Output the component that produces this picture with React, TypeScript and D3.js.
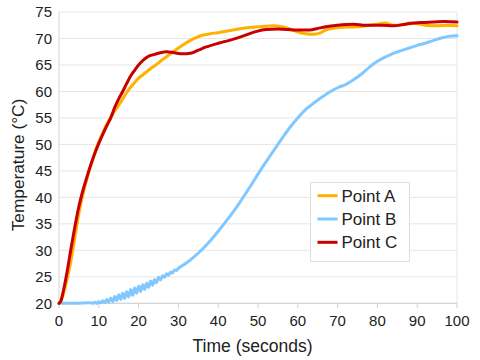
import React from "react";
import * as d3 from "d3";

const xTicks = [0, 10, 20, 30, 40, 50, 60, 70, 80, 90, 100];
const yTicks = [20, 25, 30, 35, 40, 45, 50, 55, 60, 65, 70, 75];

const seriesNames = ["Point A", "Point B", "Point C"];
const seriesColors = ["#ffb000", "#80c8ff", "#c80000"];

// Point A
const timeA = [0, 0.5, 1, 2, 3, 4, 5, 6, 7, 8, 9, 10, 11, 12, 13, 14, 15, 16, 17, 18, 19, 20, 21, 22, 23, 24, 25, 26, 28, 30, 32, 34, 36, 38, 40, 43, 46, 50, 54, 56, 58, 60, 62, 64, 65.5, 67, 68.5, 71, 75, 77, 80, 82, 84, 86.5, 88, 90, 92, 95, 97.5, 100];
const tempA = [20, 20.4, 21.5, 24.5, 28, 32.5, 37, 40.5, 43.5, 46, 48.5, 50.5, 52.2, 53.8, 55.1, 56.3, 57.4, 58.6, 59.8, 60.8, 61.7, 62.5, 63.1, 63.7, 64.3, 64.8, 65.4, 66, 67.1, 68.2, 69.2, 70, 70.6, 70.9, 71.1, 71.5, 71.9, 72.2, 72.4, 72.2, 71.8, 71.2, 70.9, 70.8, 71, 71.6, 71.9, 72.1, 72.2, 72.4, 72.7, 72.9, 72.5, 72.6, 72.9, 72.8, 72.5, 72.4, 72.5, 72.4];

// Point B
const timeB = [0, 4, 8, 8.5, 9, 9.5, 10, 10.5, 11, 11.5, 12, 12.5, 13, 13.5, 14, 14.5, 15, 15.5, 16, 16.5, 17, 17.5, 18, 18.5, 19, 19.5, 20, 20.5, 21, 21.5, 22, 22.5, 23, 23.5, 24, 24.5, 25, 25.5, 26, 26.5, 27, 27.5, 28, 28.5, 29, 29.5, 30, 32, 34, 36, 38, 40, 42, 44, 46, 48, 50, 52, 54, 56, 58, 60, 62, 64, 66, 68, 70, 72, 74, 76, 78, 80, 82, 84, 86, 88, 90, 92, 94, 96, 98, 100];
const tempB = [20, 20, 20.1, 20.0, 20.2, 20.0, 20.3, 20.1, 20.5, 20.1, 20.7, 20.2, 21.0, 20.3, 21.3, 20.5, 21.6, 20.7, 21.9, 20.9, 22.2, 21.2, 22.6, 21.5, 22.9, 21.9, 23.2, 22.2, 23.5, 22.6, 23.8, 23.0, 24.2, 23.4, 24.5, 23.9, 24.9, 24.4, 25.2, 24.9, 25.6, 25.3, 25.9, 25.7, 26.3, 26.2, 26.6, 27.6, 28.8, 30.2, 31.8, 33.6, 35.5, 37.5, 39.7, 42, 44.4, 46.7, 48.9, 51.1, 53.2, 55, 56.6, 57.8, 58.9, 59.9, 60.7, 61.3, 62.2, 63.3, 64.6, 65.7, 66.5, 67.2, 67.7, 68.2, 68.7, 69.1, 69.6, 70.1, 70.4, 70.5];

// Point C
const timeC = [0, 0.5, 1, 2, 3, 4, 5, 6, 7, 8, 9, 10, 11, 12, 13, 14, 15, 16, 17, 18, 19, 20, 21, 22, 23, 24, 25, 27, 29, 31, 33, 35, 37, 40, 43, 46, 49, 52, 55, 60, 63, 65, 67, 70, 74, 77, 81, 84, 87, 91, 94, 97, 100];
const tempC = [20, 20.5, 22, 25.8, 30.3, 34.5, 38.3, 41.3, 43.8, 46.2, 48.3, 50.2, 51.9, 53.5, 55, 57, 58.6, 60, 61.5, 62.9, 64, 65, 65.8, 66.4, 66.8, 67, 67.2, 67.5, 67.3, 67.1, 67.2, 67.8, 68.4, 69.1, 69.7, 70.4, 71.2, 71.7, 71.8, 71.6, 71.6, 71.9, 72.2, 72.5, 72.7, 72.5, 72.5, 72.4, 72.7, 73, 73.1, 73.2, 73.1];

const seriesTimes = [timeA, timeB, timeC];
const seriesTemps = [tempA, tempB, tempC];

export default function App() {
  const W = 480, H = 360;
  const left = 59, right = 457, top = 12, bottom = 303.3;
  const x = d3.scaleLinear().domain([0, 100]).range([left, right]);
  const y = d3.scaleLinear().domain([20, 75]).range([bottom, top]);
  const line = d3
    .line<[number, number]>()
    .x((d) => x(d[0]))
    .y((d) => y(d[1]))
    .curve(d3.curveMonotoneX);
  const font = "'Liberation Sans', Arial, sans-serif";
  const textColor = "#222";
  const drawOrder = [1, 0, 2];
  return (
    <svg width={W} height={H} style={{ position: "absolute", left: 0, top: 0, background: "#fff" }} fontFamily={font}>
      <rect x={0} y={0} width={W} height={H} fill="#fff" />
      {yTicks.map((t) => (
        <line key={"g" + t} x1={left} x2={right} y1={y(t)} y2={y(t)} stroke="#e6e6e6" strokeWidth={1} />
      ))}
      <line x1={right} x2={right} y1={top} y2={bottom} stroke="#e6e6e6" strokeWidth={1} />
      <line x1={left} x2={left} y1={top} y2={bottom} stroke="#d4d4d4" strokeWidth={1} />
      <line x1={left} x2={right} y1={bottom} y2={bottom} stroke="#d0d0d0" strokeWidth={1} />
      {xTicks.map((t) => (
        <line key={"xt" + t} x1={x(t)} x2={x(t)} y1={bottom} y2={bottom + 5} stroke="#d0d0d0" strokeWidth={1} />
      ))}
      {yTicks.map((t) => (
        <text key={"yl" + t} x={52} y={y(t) + 5.3} textAnchor="end" fontSize={15} fill={textColor}>
          {t}
        </text>
      ))}
      {xTicks.map((t) => (
        <text key={"xl" + t} x={x(t)} y={325.5} textAnchor="middle" fontSize={15} fill={textColor}>
          {t}
        </text>
      ))}
      {drawOrder.map((i) => {
        const pts = seriesTimes[i].map((t, k) => [t, seriesTemps[i][k]] as [number, number]);
        return (
          <path
            key={"s" + i}
            d={line(pts) || ""}
            fill="none"
            stroke={seriesColors[i]}
            strokeWidth={3}
            strokeLinejoin="round"
            strokeLinecap="round"
          />
        );
      })}
      <text x={252.5} y={351.5} textAnchor="middle" fontSize={17.5} fill={textColor}>
        Time (seconds)
      </text>
      <text
        transform={`translate(23.5, 165) rotate(-90)`}
        textAnchor="middle"
        fontSize={17.3}
        fill={textColor}
      >
        Temperature (°C)
      </text>
      <rect x={310.5} y={182.5} width={99} height={79} fill="#fff" stroke="#dedede" strokeWidth={1} />
      {seriesNames.map((n, i) => {
        const ry = 195.7 + i * 23.3;
        return (
          <g key={"lg" + i}>
            <line x1={317.5} x2={337.5} y1={ry} y2={ry} stroke={seriesColors[i]} strokeWidth={3} />
            <text x={341.5} y={ry + 6} fontSize={17} fill={textColor}>
              {n}
            </text>
          </g>
        );
      })}
    </svg>
  );
}
